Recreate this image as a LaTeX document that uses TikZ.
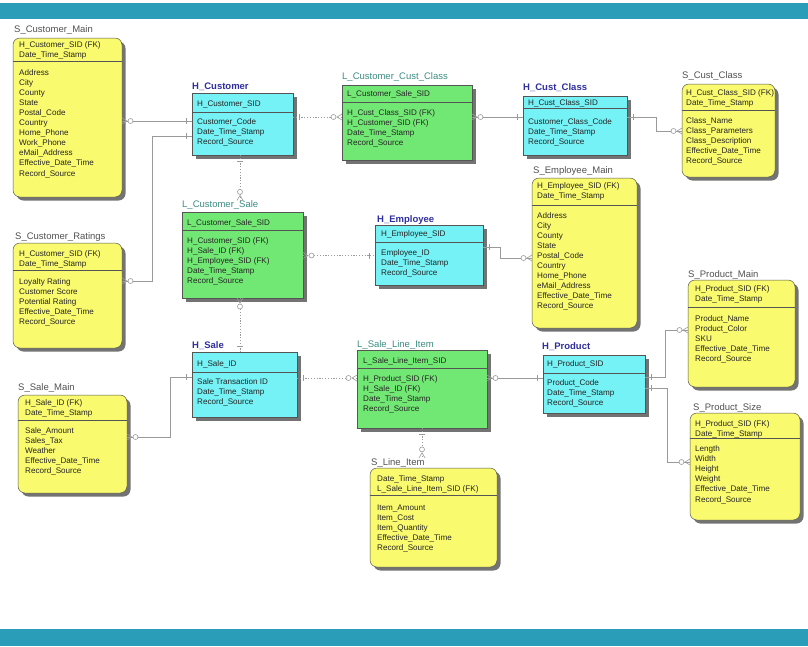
\documentclass[tikz,border=0pt]{standalone}
\usepackage{fontspec}
\setmainfont{Liberation Sans}
\usetikzlibrary{calc,shadows}
\definecolor{barc}{HTML}{2A9EB8}
\definecolor{yfill}{HTML}{FAFA6E}
\definecolor{cfill}{HTML}{74F2F6}
\definecolor{gfill}{HTML}{72E874}
\definecolor{bordc}{HTML}{555555}
\definecolor{connc}{HTML}{9A9A9A}
\definecolor{htitle}{HTML}{2E2E9E}
\definecolor{ltitle}{HTML}{3A8C80}
\definecolor{stitle}{HTML}{505050}
\definecolor{txtc}{HTML}{252525}
\newcommand\entbox[7]{\node[#2, minimum width=#5pt, minimum height=#6pt] (#1) at (#3,#4) {};
  \draw[divline] ($(#1.north west)+(0,#7)$) -- ($(#1.north east)+(0,#7)$);}
\newcommand\lns[1]{\begin{tabular}[t]{@{}l@{}}#1\end{tabular}}
\tikzset{
 ent/.style={draw=bordc, line width=0.5pt, anchor=north west, inner sep=0pt, outer sep=0pt,
   drop shadow={shadow xshift=3.5pt, shadow yshift=-3.5pt, fill=black, opacity=0.55}},
 sbox/.style={ent, fill=yfill, rounded corners=7pt},
 hbox/.style={ent, fill=cfill},
 lbox/.style={ent, fill=gfill},
 txt/.style={anchor=base west, inner sep=0pt, font=\fontsize{8.1}{10.1}\selectfont, text=txtc},
 ttl/.style={anchor=base west, inner sep=0pt, font=\fontsize{9.5}{11}\selectfont},
 sttl/.style={ttl, text=stitle},
 httl/.style={ttl, text=htitle, font=\fontsize{9.5}{11}\selectfont\bfseries},
 lttl/.style={ttl, text=ltitle},
 divline/.style={draw=bordc, line width=0.4pt},
 conn/.style={draw=connc, line width=0.6pt},
 dots/.style={conn, dash pattern=on 1.2pt off 1.6pt},
 many/.pic={\draw[conn] (0,-3) -- (5,0) -- (0,3); \draw[conn, fill=white] (8.5,0) circle[radius=2.5pt];},
 one/.pic={\draw[conn] (6,-3) -- (6,3);},
}
\begin{document}
\begin{tikzpicture}[x=1pt,y=-1pt]
\useasboundingbox (0,0) rectangle (808,646);
\fill[barc] (0,3) rectangle (808,19);
\fill[barc] (0,629) rectangle (808,646);

% S_Customer_Main
\entbox{scm}{sbox}{13}{38}{109}{159}{23}
\node[sttl] (scmt) at (14,32) {S\_Customer\_Main};
\node[txt] (scmk) at (19,47) {\lns{H\_Customer\_SID (FK)\\Date\_Time\_Stamp}};
\node[txt] (scma) at (19,75) {\lns{Address\\City\\County\\State\\Postal\_Code\\Country\\Home\_Phone\\Work\_Phone\\eMail\_Address\\Effective\_Date\_Time\\Record\_Source}};

% H_Customer
\entbox{hc}{hbox}{192}{93}{101}{62}{19}
\node[httl] (hct) at (192,89.5) {H\_Customer};
\node[txt] (hck) at (197,106) {H\_Customer\_SID};
\node[txt] (hca) at (197,124) {\lns{Customer\_Code\\Date\_Time\_Stamp\\Record\_Source}};

% L_Customer_Cust_Class
\entbox{lccc}{lbox}{342}{85}{130}{75}{17}
\node[lttl] (lccct) at (342,79.5) {L\_Customer\_Cust\_Class};
\node[txt] (lccck) at (347,96.5) {L\_Customer\_Sale\_SID};
\node[txt] (lccca) at (347,115) {\lns{H\_Cust\_Class\_SID (FK)\\H\_Customer\_SID (FK)\\Date\_Time\_Stamp\\Record\_Source}};

% H_Cust_Class
\entbox{hcc}{hbox}{523}{96}{104}{59}{12}
\node[httl] (hcct) at (523,90.5) {H\_Cust\_Class};
\node[txt] (hcck) at (528,105.5) {H\_Cust\_Class\_SID};
\node[txt] (hcca) at (528,124) {\lns{Customer\_Class\_Code\\Date\_Time\_Stamp\\Record\_Source}};

% S_Cust_Class
\entbox{scc}{sbox}{682}{84}{93}{93}{26}
\node[sttl] (scct) at (682,78.5) {S\_Cust\_Class};
\node[txt] (scck) at (686,95) {\lns{H\_Cust\_Class\_SID (FK)\\Date\_Time\_Stamp}};
\node[txt] (scca) at (686,123) {\lns{Class\_Name\\Class\_Parameters\\Class\_Description\\Effective\_Date\_Time\\Record\_Source}};

% S_Customer_Ratings
\entbox{scr}{sbox}{13}{243}{109}{105}{27}
\node[sttl] (scrt) at (15,239) {S\_Customer\_Ratings};
\node[txt] (scrk) at (19,256.5) {\lns{H\_Customer\_SID (FK)\\Date\_Time\_Stamp}};
\node[txt] (scra) at (19,284.5) {\lns{Loyalty Rating\\Customer Score\\Potential Rating\\Effective\_Date\_Time\\Record\_Source}};

% L_Customer_Sale
\entbox{lcs}{lbox}{182}{212}{121}{86}{18}
\node[lttl] (lcst) at (182,207.5) {L\_Customer\_Sale};
\node[txt] (lcsk) at (187,225.5) {L\_Customer\_Sale\_SID};
\node[txt] (lcsa) at (187,243) {\lns{H\_Customer\_SID (FK)\\H\_Sale\_ID (FK)\\H\_Employee\_SID (FK)\\Date\_Time\_Stamp\\Record\_Source}};

% H_Employee
\entbox{he}{hbox}{375}{225}{108}{60}{17}
\node[httl] (het) at (377,222) {H\_Employee};
\node[txt] (hek) at (381,236.5) {H\_Employee\_SID};
\node[txt] (hea) at (381,255) {\lns{Employee\_ID\\Date\_Time\_Stamp\\Record\_Source}};

% S_Employee_Main
\entbox{sem}{sbox}{532}{178}{105}{150}{27}
\node[sttl] (semt) at (533,173.5) {S\_Employee\_Main};
\node[txt] (semk) at (537,188) {\lns{H\_Employee\_SID (FK)\\Date\_Time\_Stamp}};
\node[txt] (sema) at (537,218) {\lns{Address\\City\\County\\State\\Postal\_Code\\Country\\Home\_Phone\\eMail\_Address\\Effective\_Date\_Time\\Record\_Source}};

% S_Product_Main
\entbox{spm}{sbox}{688}{280}{107}{107}{27}
\node[sttl] (spmt) at (688,277) {S\_Product\_Main};
\node[txt] (spmk) at (695,291.5) {\lns{H\_Product\_SID (FK)\\Date\_Time\_Stamp}};
\node[txt] (spma) at (695,321.5) {\lns{Product\_Name\\Product\_Color\\SKU\\Effective\_Date\_Time\\Record\_Source}};

% S_Product_Size
\entbox{sps}{sbox}{690}{413}{110}{107}{25}
\node[sttl] (spst) at (693,410) {S\_Product\_Size};
\node[txt] (spsk) at (695,426.5) {\lns{H\_Product\_SID (FK)\\Date\_Time\_Stamp}};
\node[txt] (spsa) at (695,451.5) {\lns{Length\\Width\\Height\\Weight\\Effective\_Date\_Time\\Record\_Source}};

% S_Sale_Main
\entbox{ssm}{sbox}{18}{395}{109}{98}{25}
\node[sttl] (ssmt) at (18,390) {S\_Sale\_Main};
\node[txt] (ssmk) at (25,405) {\lns{H\_Sale\_ID (FK)\\Date\_Time\_Stamp}};
\node[txt] (ssma) at (25,433) {\lns{Sale\_Amount\\Sales\_Tax\\Weather\\Effective\_Date\_Time\\Record\_Source}};

% H_Sale
\entbox{hs}{hbox}{192}{352}{105}{65}{20}
\node[httl] (hst) at (192,348.5) {H\_Sale};
\node[txt] (hsk) at (197,366) {H\_Sale\_ID};
\node[txt] (hsa) at (197,384) {\lns{Sale Transaction ID\\Date\_Time\_Stamp\\Record\_Source}};

% L_Sale_Line_Item
\entbox{lsli}{lbox}{357}{350}{130}{78}{18}
\node[lttl] (lslit) at (357,347.5) {L\_Sale\_Line\_Item};
\node[txt] (lslik) at (363,363) {L\_Sale\_Line\_Item\_SID};
\node[txt] (lslia) at (363,381.5) {\lns{H\_Product\_SID (FK)\\H\_Sale\_ID (FK)\\Date\_Time\_Stamp\\Record\_Source}};

% H_Product
\entbox{hp}{hbox}{543}{355}{102}{58}{18}
\node[httl] (hpt) at (542,349.5) {H\_Product};
\node[txt] (hpk) at (547,366.5) {H\_Product\_SID};
\node[txt] (hpa) at (547,385) {\lns{Product\_Code\\Date\_Time\_Stamp\\Record\_Source}};

% S_Line_Item
\entbox{sli}{sbox}{370}{468}{127}{99}{27}
\node[sttl] (slit) at (371,465) {S\_Line\_Item};
\node[txt] (slik) at (377,481.5) {\lns{Date\_Time\_Stamp\\L\_Sale\_Line\_Item\_SID (FK)}};
\node[txt] (slia) at (377,510) {\lns{Item\_Amount\\Item\_Cost\\Item\_Quantity\\Effective\_Date\_Time\\Record\_Source}};

% connectors
\draw[conn] (scm.east |- 0,121) coordinate (a1) -- (hc.west |- 0,121) coordinate (a2);
\draw[conn] (scr.east |- 0,281) coordinate (b1) -- (152,281) -- (152,136) -- (hc.west |- 0,136) coordinate (b2);
\draw[dots] (hc.east |- 0,117) coordinate (c1) -- (lccc.west |- 0,117) coordinate (c2);
\draw[conn] (lccc.east |- 0,117) coordinate (d1) -- (hcc.west |- 0,117) coordinate (d2);
\draw[conn] (hcc.east |- 0,117) coordinate (e1) -- (656,117) -- (656,131) -- (scc.west |- 0,131) coordinate (e2);
\draw[dots] (240,0 |- hc.south) coordinate (f1) -- (240,0 |- lcst.north) coordinate (f2);
\draw[dots] (lcs.east |- 0,255.5) coordinate (g1) -- (he.west |- 0,255.5) coordinate (g2);
\draw[conn] (he.east |- 0,247) coordinate (h1) -- (500,247) -- (500,258) -- (sem.west |- 0,258) coordinate (h2);
\draw[dots] (240,0 |- lcs.south) coordinate (i1) -- (240,0 |- hs.north) coordinate (i2);
\draw[dots] (hs.east |- 0,378) coordinate (j1) -- (lsli.west |- 0,378) coordinate (j2);
\draw[conn] (ssm.east |- 0,437) coordinate (k1) -- (170,437) -- (170,377) -- (hs.west |- 0,377) coordinate (k2);
\draw[conn] (lsli.east |- 0,378) coordinate (l1) -- (hp.west |- 0,378) coordinate (l2);
\draw[conn] (hp.east |- 0,377) coordinate (m1) -- (665,377) -- (665,330) -- (spm.west |- 0,330) coordinate (m2);
\draw[conn] (hp.east |- 0,388) coordinate (n1) -- (667,388) -- (667,462) -- (sps.west |- 0,462) coordinate (n2);
\draw[dots] (422,0 |- lsli.south) coordinate (o1) -- (422,0 |- slit.north) coordinate (o2);

% end markers
\pic at (a1) {many}; \pic[rotate=180] at (a2) {one};
\pic at (b1) {many}; \pic[rotate=180] at (b2) {one};
\pic at (c1) {one}; \pic[rotate=180] at (c2) {many};
\pic at (d1) {many}; \pic[rotate=180] at (d2) {one};
\pic at (e1) {one}; \pic[rotate=180] at (e2) {many};
\pic[rotate=-90] at (f1) {one}; \pic[rotate=90] at (f2) {many};
\pic at (g1) {many}; \pic[rotate=180] at (g2) {one};
\pic at (h1) {one}; \pic[rotate=180] at (h2) {many};
\pic[rotate=-90] at (i1) {many}; \pic[rotate=90] at (i2) {one};
\pic at (j1) {one}; \pic[rotate=180] at (j2) {many};
\pic at (k1) {many}; \pic[rotate=180] at (k2) {one};
\pic at (l1) {many}; \pic[rotate=180] at (l2) {one};
\pic at (m1) {one}; \pic[rotate=180] at (m2) {many};
\pic at (n1) {one}; \pic[rotate=180] at (n2) {many};
\pic[rotate=-90] at (o1) {one}; \pic[rotate=90] at (o2) {many};
\end{tikzpicture}
\end{document}
